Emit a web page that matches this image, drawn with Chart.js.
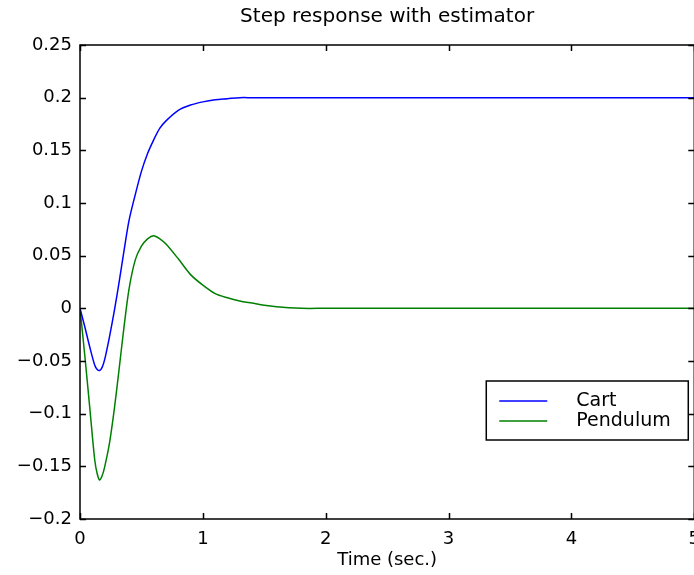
<!DOCTYPE html>
<html>
<head>
<meta charset="utf-8">
<script src="https://cdn.jsdelivr.net/npm/chart.js@4"></script>
<style>
  html, body { margin: 0; padding: 0; background: #fff; overflow: hidden; }
  #wrap { width: 702px; height: 575px; }
</style>
</head>
<body>
<div id="wrap"><canvas id="stepChart"></canvas></div>
<script>
// time (sec.) samples
const times = [0, 0.04, 0.08, 0.12, 0.14, 0.16, 0.18, 0.20, 0.24, 0.28, 0.32, 0.36, 0.40, 0.45, 0.50, 0.55, 0.60, 0.65, 0.70, 0.80, 0.90, 1.0, 1.1, 1.2, 1.3, 1.4, 1.5, 1.6, 1.7, 1.8, 2, 3, 4, 5];
const cartValues = [0, -0.018, -0.037, -0.054, -0.058, -0.059, -0.056, -0.049, -0.027, -0.002, 0.026, 0.056, 0.084, 0.108, 0.130, 0.147, 0.160, 0.171, 0.178, 0.188, 0.193, 0.196, 0.198, 0.199, 0.2, 0.2, 0.2, 0.2, 0.2, 0.2, 0.2, 0.2, 0.2, 0.2];
const pendulumValues = [0, -0.046, -0.095, -0.144, -0.157, -0.163, -0.159, -0.151, -0.128, -0.095, -0.056, -0.016, 0.019, 0.046, 0.059, 0.066, 0.069, 0.066, 0.061, 0.047, 0.032, 0.022, 0.014, 0.010, 0.007, 0.005, 0.003, 0.0015, 0.0005, 0, 0, 0, 0, 0];
const xTickLabels = ['0', '1', '2', '3', '4', '5'];
const yTickLabels = ['\u22120.2', '\u22120.15', '\u22120.1', '\u22120.05', '0', '0.05', '0.1', '0.15', '0.2', '0.25'];
const chartTitle = 'Step response with estimator';

const FONT = "'DejaVu Sans', Verdana, sans-serif";

const toPoints = (vals) => times.map((t, i) => ({ x: t, y: vals[i] }));

// frame with inward ticks on all four sides (matlab style) + title centred over the axes
const frameTicks = {
    id: 'frameTicks',
    afterDraw(chart) {
        const { ctx, chartArea: a, scales } = chart;
        const len = 6;
        ctx.save();
        ctx.strokeStyle = '#000';
        ctx.lineWidth = 1.5;
        ctx.strokeRect(a.left, a.top, a.right - a.left, a.bottom - a.top);
        ctx.beginPath();
        scales.x.ticks.forEach(t => {
            const px = Math.round(scales.x.getPixelForValue(t.value)) + 0.5;
            ctx.moveTo(px, a.bottom); ctx.lineTo(px, a.bottom - len);
            ctx.moveTo(px, a.top); ctx.lineTo(px, a.top + len);
        });
        scales.y.ticks.forEach(t => {
            const py = Math.round(scales.y.getPixelForValue(t.value)) + 0.5;
            ctx.moveTo(a.left, py); ctx.lineTo(a.left + len, py);
            ctx.moveTo(a.right, py); ctx.lineTo(a.right - len, py);
        });
        ctx.stroke();

        ctx.fillStyle = '#000';
        ctx.font = '20px ' + FONT;
        ctx.textAlign = 'center';
        ctx.textBaseline = 'middle';
        ctx.fillText(chartTitle, (a.left + a.right) / 2, 17);
        ctx.restore();
    }
};

// legend box in the lower right of the axes
const boxLegend = {
    id: 'boxLegend',
    afterDraw(chart) {
        const { ctx, chartArea: a } = chart;
        const w = 202, h = 59;
        const x0 = a.right - 6 - w, y0 = a.bottom - 79 - h;
        ctx.save();
        ctx.fillStyle = '#fff';
        ctx.fillRect(x0, y0, w, h);
        ctx.strokeStyle = '#000';
        ctx.lineWidth = 1.5;
        ctx.strokeRect(x0, y0, w, h);
        ctx.font = '19px ' + FONT;
        ctx.textBaseline = 'middle';
        chart.data.datasets.forEach((ds, i) => {
            const y = y0 + 20 + i * 20;
            ctx.strokeStyle = ds.borderColor;
            ctx.lineWidth = 1.5;
            ctx.beginPath();
            ctx.moveTo(x0 + 13, y); ctx.lineTo(x0 + 61, y);
            ctx.stroke();
            ctx.fillStyle = '#000';
            ctx.fillText(ds.label, x0 + 90, y);
        });
        ctx.restore();
    }
};

new Chart(document.getElementById('stepChart'), {
    type: 'line',
    data: {
        datasets: [
            { label: 'Cart', data: toPoints(cartValues), borderColor: '#0000ff', borderWidth: 1.5, pointRadius: 0, tension: 0.3, fill: false },
            { label: 'Pendulum', data: toPoints(pendulumValues), borderColor: '#008000', borderWidth: 1.5, pointRadius: 0, tension: 0.3, fill: false }
        ]
    },
    options: {
        responsive: true,
        maintainAspectRatio: false,
        animation: false,
        layout: { padding: { top: 45, right: 0, left: 0, bottom: 0 } },
        plugins: {
            legend: { display: false },
            tooltip: { enabled: false },
            title: { display: false }
        },
        scales: {
            x: {
                type: 'linear',
                min: 0,
                max: 5,
                grid: { display: false },
                border: { display: false },
                ticks: {
                    stepSize: 1,
                    color: '#000',
                    padding: 2,
                    maxRotation: 0,
                    font: { family: FONT, size: 18 },
                    callback: (v) => xTickLabels[Math.round(v)]
                },
                title: {
                    display: true,
                    text: 'Time (sec.)',
                    color: '#000',
                    font: { family: FONT, size: 18 },
                    padding: { top: 0 }
                },
                afterFit: (s) => { s.height = 56; }
            },
            y: {
                min: -0.2,
                max: 0.25,
                grid: { display: false },
                border: { display: false },
                ticks: {
                    stepSize: 0.05,
                    color: '#000',
                    padding: 0,
                    font: { family: FONT, size: 18 },
                    callback: (v) => yTickLabels[Math.round((v + 0.2) / 0.05)]
                },
                afterFit: (s) => { s.width = 80; }
            }
        }
    },
    plugins: [frameTicks, boxLegend]
});
</script>
</body>
</html>
